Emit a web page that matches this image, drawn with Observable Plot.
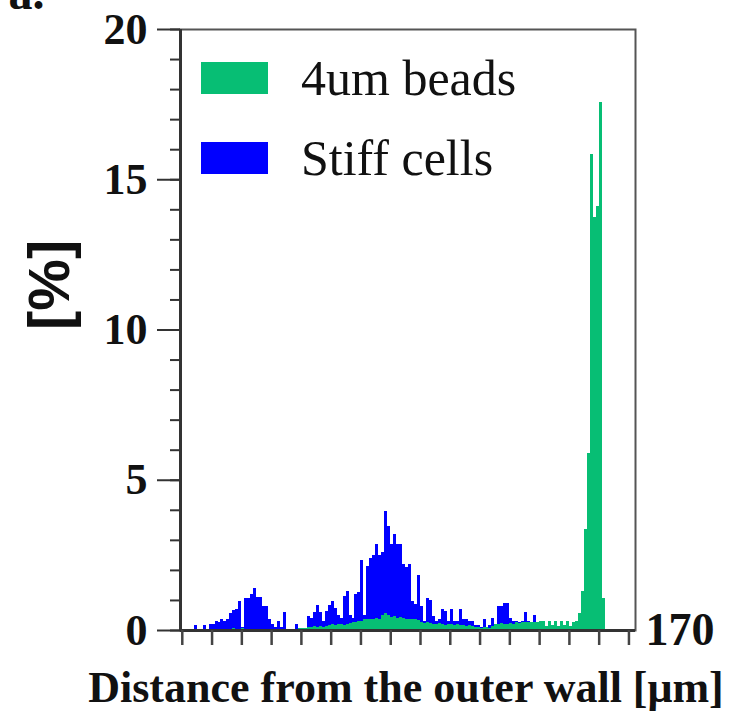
<!DOCTYPE html>
<html>
<head>
<meta charset="utf-8">
<script src="https://cdn.jsdelivr.net/npm/d3@7"></script>
<script src="https://cdn.jsdelivr.net/npm/@observablehq/plot@0.6"></script>
<style>
  html, body { margin: 0; padding: 0; background: #fff; }
  #wrap { position: relative; width: 739px; height: 716px; overflow: hidden; }
  #legend { position: absolute; left: 0; top: 0; }
  .item { position: absolute; font-family: "Liberation Serif", serif; font-size: 50px; line-height: 50px; color: #111; white-space: nowrap; }
  .sw { position: absolute; width: 67px; height: 32px; }
</style>
</head>
<body>
<div id="wrap"><div id="legend"></div></div>
<script>
// ---- data (bins of 1 µm along the channel) ----
const seriesNames = ["4um beads", "Stiff cells"];
const seriesColors = ["#07BE74", "#0000FF"];

const stiffCells = [
  0,0,0,0,0.15,0,0,0.15,0,0.2,
  0.2,0.3,0.25,0.35,0.3,0.35,0.55,0.65,0.7,0.97,
  0.1,1.08,1.05,1.2,1.4,1.1,1.1,0.8,0.8,0.35,
  0.2,0.1,0.3,0.1,0.6,0,0,0,0.2,0,
  0,0,0.45,0.4,0.6,0.82,0.6,0.3,0.63,0.83,
  0.97,0.72,0.5,0.4,1.13,1.3,0.5,0.4,1.19,1.28,
  2.32,0.5,2.13,2.4,2.5,2.85,2.5,2.58,3.95,3.46,
  2.85,3.18,2.85,2.85,2.2,2.1,2.2,0.97,0.85,1.83,
  0.8,0.3,1.07,1.0,0.47,0.3,0.35,0.7,0.63,0.3,
  0.7,0.3,0.3,0.69,0.35,0.35,0.3,0.3,0.15,0.15,
  0.1,0.35,0.1,0.15,0.4,0.2,0.8,0.8,0.9,0.9,
  0.4,0.3,0.3,0.25,0.3,0.6,0.3,0.2,0.5,0.2,
  0.2,0,0,0,0,0,0,0,0,0,
  0,0,0,0,0,0,0,0,0,0,
  0,0,0,0,0,0,0,0,0,0,
  0,0
];

const beads = [
  0,0,0,0,0,0,0,0,0,0,
  0,0,0,0,0,0,0,0.05,0,0,
  0.05,0,0,0,0,0,0,0,0,0,
  0,0,0,0,0,0,0,0,0,0.05,
  0.05,0.05,0.1,0.1,0.12,0.1,0.12,0.1,0.12,0.17,
  0.2,0.17,0.2,0.2,0.17,0.2,0.22,0.25,0.25,0.3,
  0.3,0.36,0.35,0.38,0.36,0.4,0.36,0.5,0.55,0.5,
  0.44,0.45,0.41,0.42,0.4,0.36,0.38,0.35,0.36,0.33,
  0.25,0.22,0.25,0.22,0.2,0.2,0.22,0.2,0.18,0.2,
  0.2,0.18,0.2,0.15,0.15,0.12,0.15,0.12,0.1,0.1,
  0.08,0.1,0.1,0.08,0.12,0.2,0.2,0.22,0.2,0.2,
  0.22,0.2,0.25,0.22,0.25,0.25,0.28,0.25,0.25,0.28,
  0.3,0.3,0.12,0.3,0.15,0.3,0.12,0.3,0.15,0.3,
  0.12,0.25,0.3,0.58,1.3,3.35,5.9,15.84,13.75,14.1,
  17.58,1.08,0,0,0,0,0,0,0,0,
  0,0
];

const yMajorTicks = [0, 5, 10, 15, 20];
const yMinorTicks = [0,1,2,3,4,5,6,7,8,9,10,11,12,13,14,15,16,17,18,19,20];
const xTicks = [0,10,20,30,40,50,60,70,80,90,100,110,120,130,140,150];
const xDomain = [-0.6, 152.2];
const yDomain = [0, 20];
const xEndLabel = "170";
const yTitle = "[%]";
const xTitle = "Distance from the outer wall [\u03bcm]";
const panelLabel = "a.";

// ---- build table ----
const bins = d3.range(stiffCells.length);
const cellRows = bins.map(i => ({x1: i, x2: i + 1, v: stiffCells[i]})).filter(d => d.v > 0);
const beadRows = bins.map(i => ({x1: i, x2: i + 1, v: beads[i]})).filter(d => d.v > 0);

const serif = "Liberation Serif, Times New Roman, serif";

const chart = Plot.plot({
  width: 739,
  height: 716,
  marginLeft: 180,
  marginRight: 104,
  marginTop: 29,
  marginBottom: 86,
  x: {domain: xDomain, axis: null},
  y: {domain: yDomain, axis: null},
  style: {background: "white", overflow: "visible"},
  marks: [
    Plot.rectY(cellRows, {x1: "x1", x2: "x2", y: "v", fill: seriesColors[1], inset: 0, shapeRendering: "crispEdges"}),
    Plot.rectY(beadRows, {x1: "x1", x2: "x2", y: "v", fill: seriesColors[0], inset: 0, shapeRendering: "crispEdges"}),
    Plot.frame({stroke: "#555", strokeWidth: 2}),
    Plot.ruleX([xDomain[0]], {stroke: "#333", strokeWidth: 3}),
    Plot.ruleY([0], {stroke: "#333", strokeWidth: 3}),
    Plot.axisY(yMinorTicks, {anchor: "left", tickSize: 10, tickFormat: () => "", label: null, stroke: "#333", strokeWidth: 2}),
    Plot.axisY(yMajorTicks, {anchor: "left", tickSize: 23, tickPadding: 10, label: null, stroke: "#333", strokeWidth: 2,
      fontSize: 44, fontWeight: "bold", fontFamily: serif, fill: "#111", tickFormat: d => String(d)}),
    Plot.axisX(xTicks, {anchor: "bottom", tickSize: 15, tickFormat: () => "", label: null, stroke: "#444", strokeWidth: 2.5}),
    Plot.text([xEndLabel], {x: xDomain[1], y: 0, text: d => d, textAnchor: "start", lineAnchor: "middle", dx: 10,
      fontSize: 46, fontWeight: "bold", fontFamily: serif, fill: "#111"}),
    Plot.text([yTitle], {frameAnchor: "left", dx: -130, rotate: -90, lineAnchor: "middle", text: d => d,
      fontSize: 58, fontWeight: "bold", fontFamily: "Liberation Sans, Arial, sans-serif", fill: "#111"}),
    Plot.text([xTitle], {frameAnchor: "bottom", lineAnchor: "middle", dy: 57, dx: -2, text: d => d,
      fontSize: 44, fontWeight: "bold", fontFamily: serif, fill: "#111"}),
    Plot.text([panelLabel], {frameAnchor: "top-left", lineAnchor: "middle", dx: -172, dy: -36, textAnchor: "start", text: d => d,
      fontSize: 48, fontWeight: "bold", fontFamily: serif, fill: "#111"})
  ]
});

const wrap = document.getElementById("wrap");
wrap.insertBefore(chart, wrap.firstChild);

// ---- legend (HTML overlay inside the frame) ----
const legend = document.getElementById("legend");
const legendTops = [61.7, 141.7];
seriesNames.forEach((name, i) => {
  const sw = document.createElement("div");
  sw.className = "sw";
  sw.style.left = "200.7px";
  sw.style.top = legendTops[i] + "px";
  sw.style.background = seriesColors[i];
  legend.appendChild(sw);
  const t = document.createElement("div");
  t.className = "item";
  t.style.left = "301px";
  t.style.top = (legendTops[i] - 9) + "px";
  t.textContent = name;
  legend.appendChild(t);
});
</script>
</body>
</html>
